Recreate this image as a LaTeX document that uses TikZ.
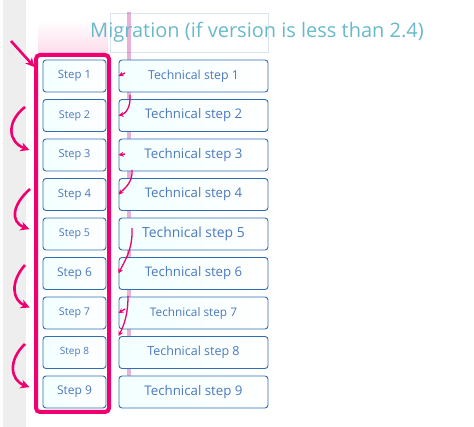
\documentclass[tikz,border=0pt]{standalone}
\usepackage{fontspec}
\setmainfont{Open Sans}
\usetikzlibrary{arrows.meta}
\definecolor{hotpink}{RGB}{240,0,110}
\definecolor{boxblue}{RGB}{45,110,180}
\definecolor{textblue}{RGB}{75,120,190}
\definecolor{titleteal}{RGB}{105,185,200}
\definecolor{stripgray}{RGB}{238,238,238}
\newcommand\txtsize[1]{\fontsize{#1}{#1}\selectfont}
\tikzset{
  stepbox/.style = {draw = boxblue, line width = 0.9pt, rounded corners = 3pt,
    left color = cyan!5, right color = white, text = textblue,
    minimum width = 63pt, minimum height = 32pt, inner sep = 0pt},
  techbox/.style = {stepbox, minimum width = 149pt},
  pinkarrow/.style = {draw = hotpink, line width = 2.6pt, -{Stealth[length = 9pt, width = 9pt]}},
  smallpink/.style = {draw = hotpink, line width = 1.3pt, -{Stealth[length = 5pt, width = 5pt]}}
}
\begin{document}
\begin{tikzpicture}[x = 1pt, y = -1pt]
        \useasboundingbox (0, 0) rectangle (474, 427);
        \fill [stripgray] (3, 0) rectangle (26, 427);
        % faint leftovers at the top
        \shade [top color = white, bottom color = hotpink!14] (38, 20) rectangle (108, 54);
        \draw [boxblue!18, line width = 0.8pt] (110, 13) rectangle (268, 52);
        \draw [violet!55!hotpink, opacity = 0.3, line width = 4pt] (129, 12) -- (129, 405);
        \node [text = titleteal] (title) at (257, 32) {\txtsize{20}Migration (if version is less than 2.4)};
        % user steps
        \node [stepbox] (step1) at (74.5, 76) {\txtsize{11.4}Step 1};
        \node [stepbox] (step2) at (74.5, 115.5) {\txtsize{10.7}Step 2};
        \node [stepbox] (step3) at (74.5, 155) {\txtsize{11}Step 3};
        \node [stepbox] (step4) at (74.5, 194.5) {\txtsize{11.4}Step 4};
        \node [stepbox] (step5) at (74.5, 234) {\txtsize{10.7}Step 5};
        \node [stepbox] (step6) at (74.5, 273.5) {\txtsize{12}Step 6};
        \node [stepbox] (step7) at (74.5, 313) {\txtsize{10.7}Step 7};
        \node [stepbox] (step8) at (74.5, 352.5) {\txtsize{10}Step 8};
        \node [stepbox] (step9) at (74.5, 392) {\txtsize{12}Step 9};
        % technical steps
        \node [techbox] (tech1) at (193.5, 76) {\txtsize{12.3}Technical step 1};
        \node [techbox] (tech2) at (193.5, 115.5) {\txtsize{13.2}Technical step 2};
        \node [techbox] (tech3) at (193.5, 155) {\txtsize{13.3}Technical step 3};
        \node [techbox] (tech4) at (193.5, 194.5) {\txtsize{13.2}Technical step 4};
        \node [techbox] (tech5) at (193.5, 234) {\txtsize{13.9}Technical step 5};
        \node [techbox] (tech6) at (193.5, 273.5) {\txtsize{13.2}Technical step 6};
        \node [techbox] (tech7) at (193.5, 313) {\txtsize{11.8}Technical step 7};
        \node [techbox] (tech8) at (193.5, 352.5) {\txtsize{12.5}Technical step 8};
        \node [techbox] (tech9) at (193.5, 392) {\txtsize{13.3}Technical step 9};
        % frame round the user steps
        \draw [hotpink, line width = 4pt, rounded corners = 4pt] (36, 55) rectangle (109, 412);
        % arrows on the left
        \coordinate (a1) at (11, 41);
        \coordinate (a2) at (25, 107);
        \coordinate (a4) at (30, 189);
        \coordinate (a6) at (25, 265);
        \coordinate (a8) at (25, 344);
        \draw [pinkarrow, shorten > = 12pt] (a1) -- (step1.west);
        \draw [pinkarrow, shorten > = 14pt] (a2) .. controls (6, 122) and (8, 142) .. (step3.west);
        \draw [pinkarrow, shorten > = 14pt] (a4) .. controls (12, 205) and (10, 222) .. (step5.west);
        \draw [pinkarrow, shorten > = 14pt] (a6) .. controls (10, 282) and (12, 300) .. (step7.west);
        \draw [pinkarrow, shorten > = 14pt] (a8) .. controls (8, 360) and (10, 380) .. (step9.west);
        % small marks on the technical steps
        \coordinate (h1) at (125, 73);
        \coordinate (h2) at (130, 95);
        \coordinate (h3) at (125, 154);
        \coordinate (h4) at (132, 170);
        \coordinate (h6) at (132, 228);
        \coordinate (h7) at (125, 309);
        \coordinate (h8) at (128, 296);
        \draw [smallpink] (h1) -- (tech1.west);
        \draw [smallpink] (h2) .. controls (131, 108) and (125, 114) .. (tech2.west);
        \draw [smallpink] (h3) -- (tech3.west);
        \draw [smallpink] (h4) .. controls (133, 182) and (125, 188) .. (tech4.west);
        \draw [smallpink] (h6) .. controls (133, 250) and (124, 262) .. (tech6.west);
        \draw [smallpink] (h7) -- (tech7.west);
        \draw [smallpink] (h8) .. controls (128, 315) and (124, 325) .. (tech8.north west);
    \end{tikzpicture}
\end{document}
